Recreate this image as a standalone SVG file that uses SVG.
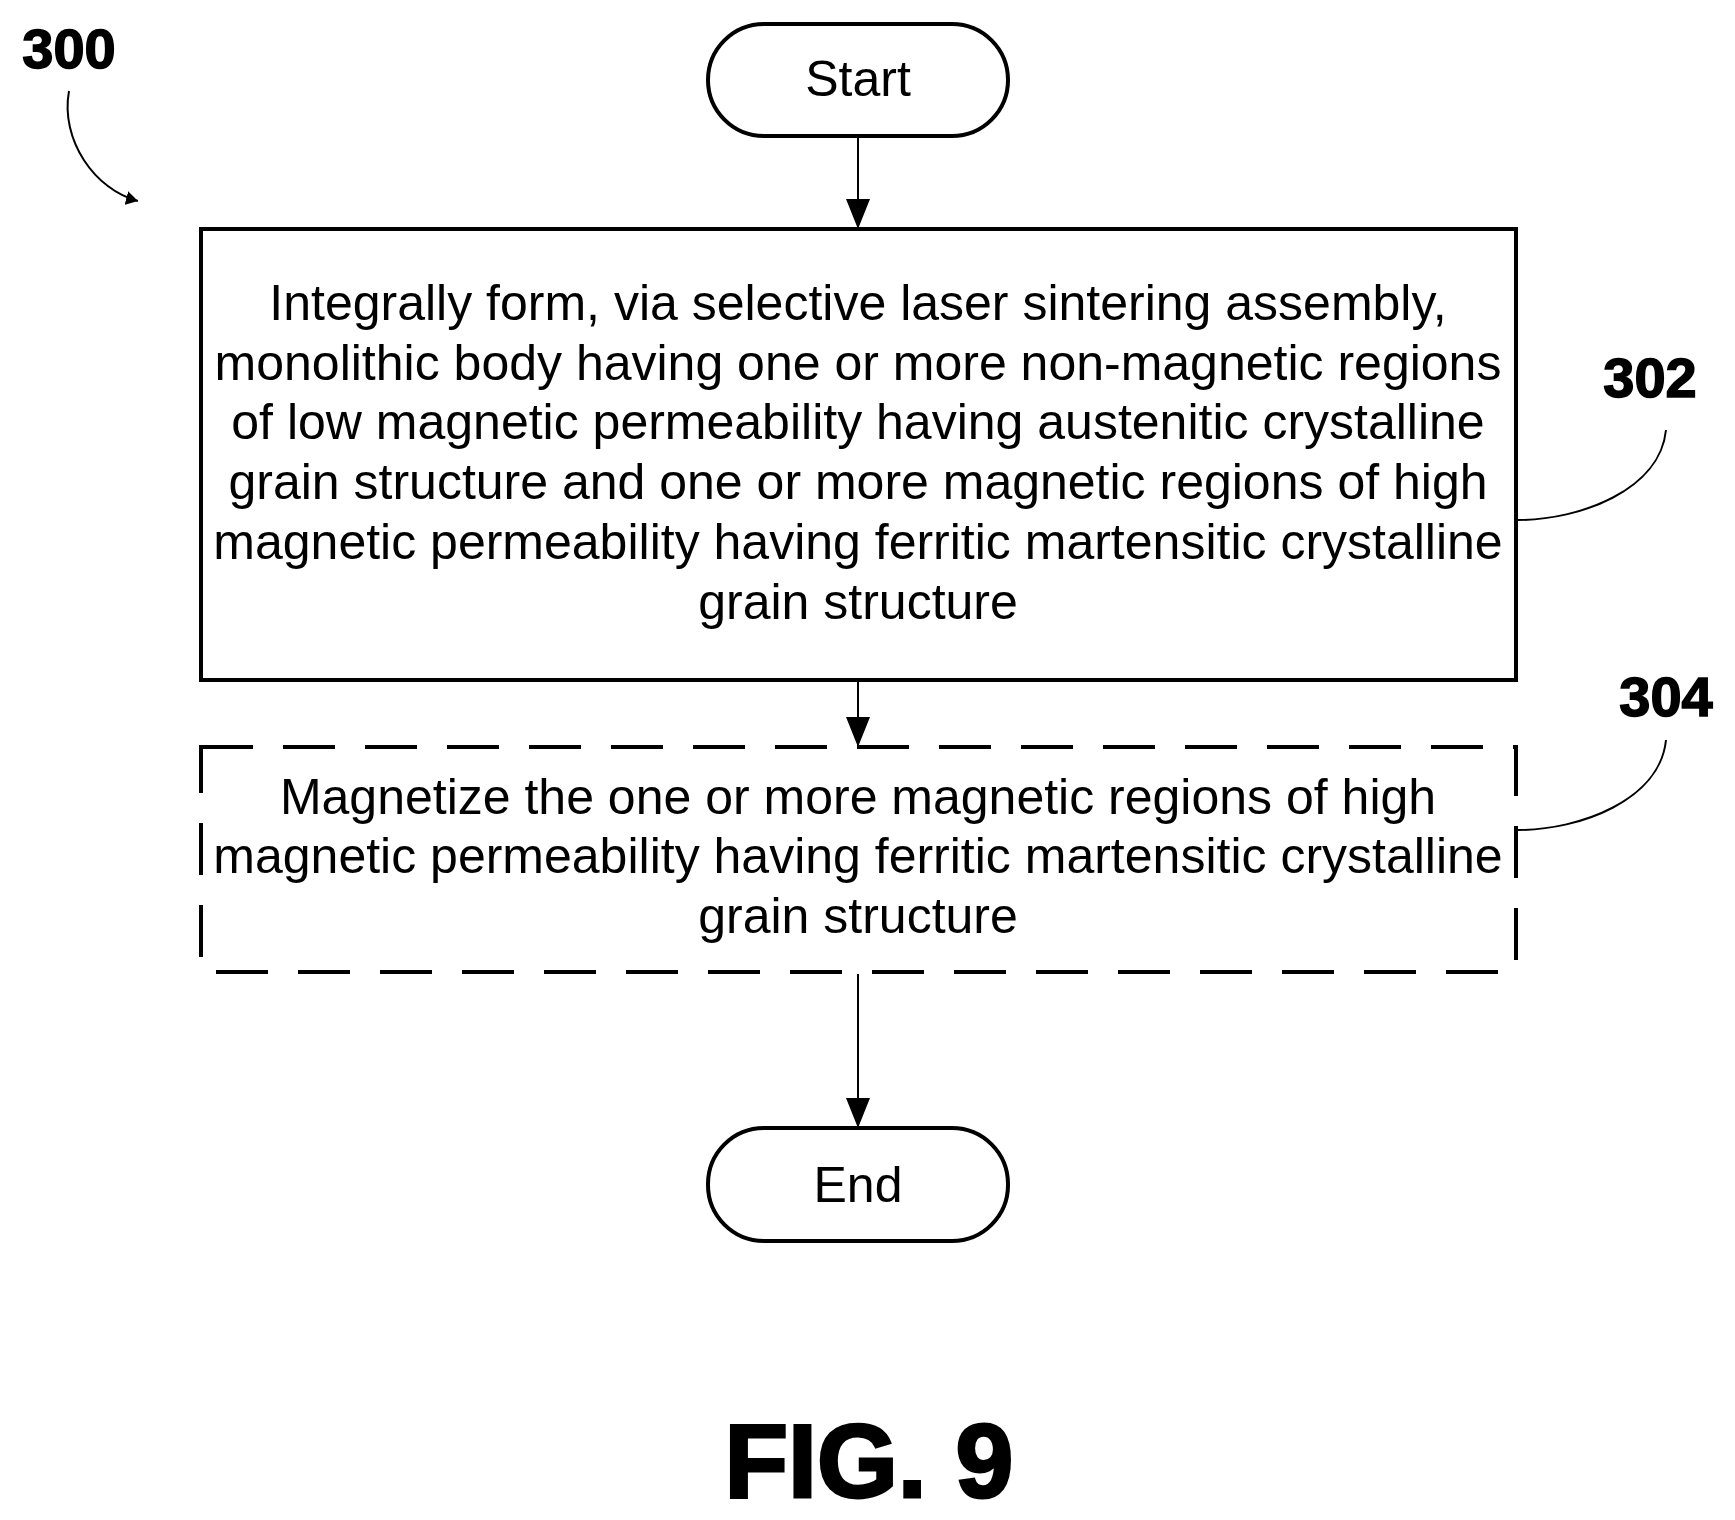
<svg xmlns="http://www.w3.org/2000/svg" width="1735" height="1520" viewBox="0 0 1735 1520">
<defs>
<style>
.t{font-family:"Liberation Sans",Arial,sans-serif;font-size:50px;text-anchor:middle;fill:#000}
.b{font-family:"Liberation Sans",Arial,sans-serif;font-weight:bold;font-size:56px;text-anchor:middle;fill:#000;stroke:#000;stroke-width:1.5}
.f{font-family:"Liberation Sans",Arial,sans-serif;font-weight:bold;font-size:104px;text-anchor:middle;fill:#000;stroke:#000;stroke-width:3}
.n{fill:#fff;stroke:#000;stroke-width:4}
.c{fill:none;stroke:#000;stroke-width:2}
</style>
<marker id="ah" markerWidth="12" markerHeight="14" refX="12" refY="7" orient="auto" markerUnits="userSpaceOnUse"><path d="M0,0 L12,7 L0,14 Z" fill="#000"/></marker>
<marker id="ah2" viewBox="0 0 30 24" markerWidth="30" markerHeight="24" refX="30" refY="12" orient="auto" markerUnits="userSpaceOnUse"><path d="M0,0 L30,12 L0,24 Z" fill="#000"/></marker>
</defs>
<rect width="1735" height="1520" fill="#fff"/>
<g id="connectors">
<line class="c" x1="858" y1="136" x2="858" y2="229" marker-end="url(#ah2)"/>
<line class="c" x1="858" y1="682" x2="858" y2="747" marker-end="url(#ah2)"/>
<line class="c" x1="858" y1="974" x2="858" y2="1128" marker-end="url(#ah2)"/>
<path class="c" d="M69,91 C60,140 95,190 138,201" marker-end="url(#ah)"/>
<path class="c" d="M1666,430 C1660,490 1580,520 1518,520"/>
<path class="c" d="M1666,740 C1660,800 1580,830 1518,830"/>
</g>
<g id="start"><rect class="n" x="708" y="24" width="300" height="112" rx="56"/><text class="t" x="858" y="96">Start</text></g>
<g id="n302"><rect class="n" x="201" y="229" width="1315" height="451"/>
<text class="t" x="858" y="320">Integrally form, via selective laser sintering assembly,</text>
<text class="t" x="858" y="380">monolithic body having one or more non-magnetic regions</text>
<text class="t" x="858" y="439">of low magnetic permeability having austenitic crystalline</text>
<text class="t" x="858" y="499">grain structure and one or more magnetic regions of high</text>
<text class="t" x="858" y="559">magnetic permeability having ferritic martensitic crystalline</text>
<text class="t" x="858" y="619">grain structure</text></g>
<g id="n304"><rect class="n" x="201" y="747" width="1315" height="225" stroke-dasharray="52 30"/>
<text class="t" x="858" y="814">Magnetize the one or more magnetic regions of high</text>
<text class="t" x="858" y="873">magnetic permeability having ferritic martensitic crystalline</text>
<text class="t" x="858" y="933">grain structure</text></g>
<g id="end"><rect class="n" x="708" y="1128" width="300" height="113" rx="56"/><text class="t" x="858" y="1202">End</text></g>
<g id="labels">
<text class="b" x="69" y="68">300</text>
<text class="b" x="1650" y="397">302</text>
<text class="b" x="1666" y="716">304</text>
<text class="f" x="869" y="1497">FIG. 9</text>
</g>
</svg>
